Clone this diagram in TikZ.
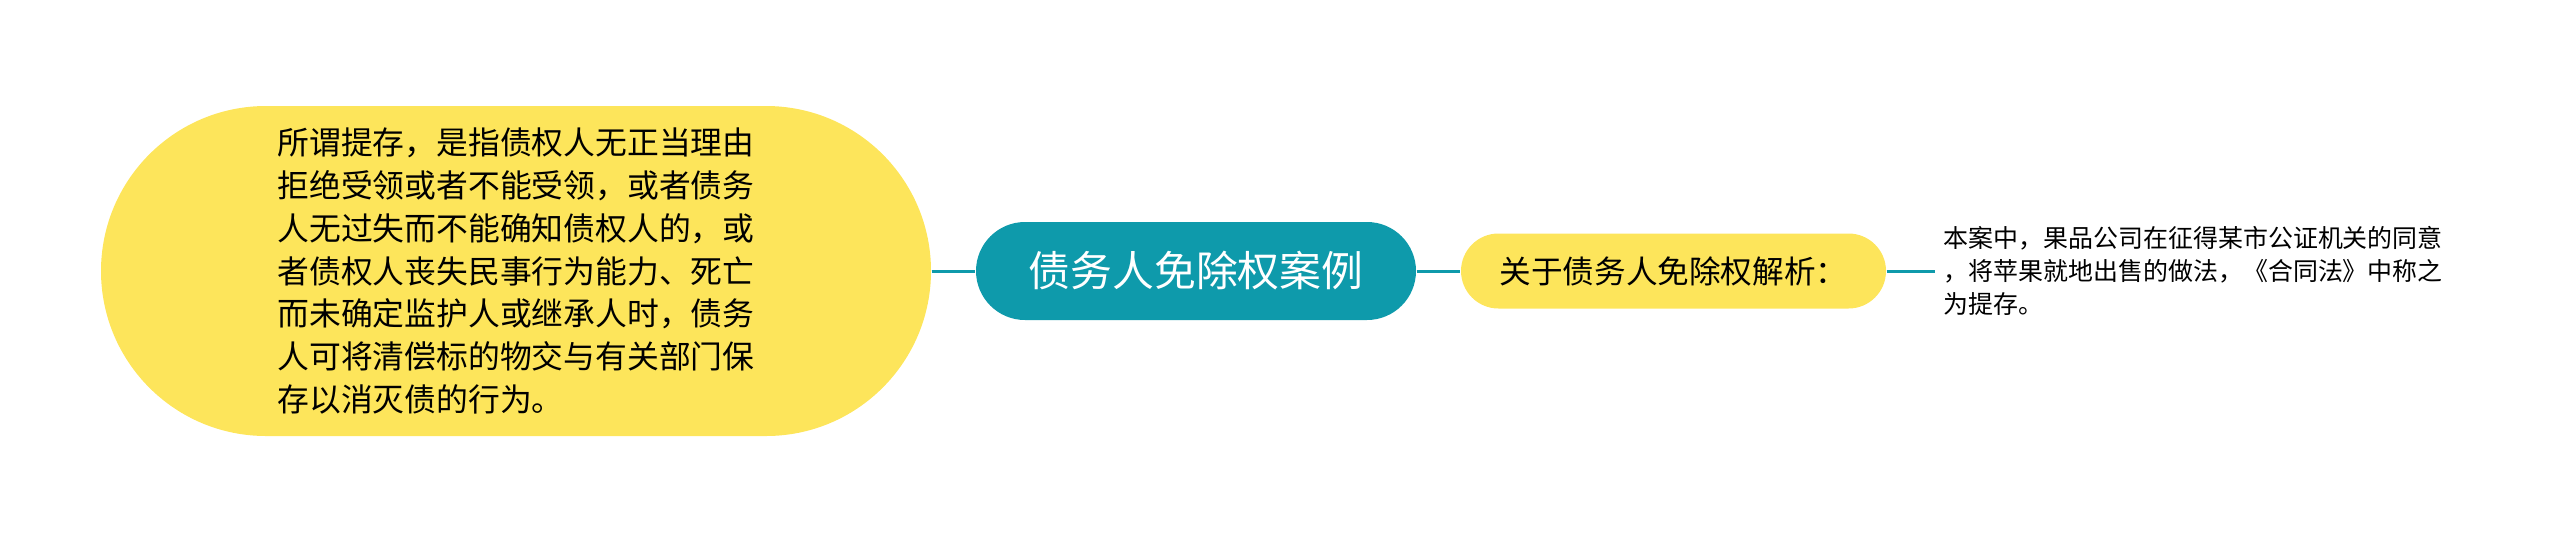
\documentclass[tikz,border=0pt]{standalone}
\usepackage{fontspec}
\newfontfamily\cjk{Noto Sans CJK SC}
\usetikzlibrary{calc}
\definecolor{topicteal}{HTML}{0E9AAB}
\definecolor{leafyellow}{HTML}{FDE55B}
\tikzstyle{root}=[rounded corners=0.49cm,fill=topicteal,minimum width=4.4cm,minimum height=0.98cm,inner sep=0pt,text=white,font=\cjk\fontsize{11.9}{14}\selectfont]
\tikzstyle{bigleaf}=[rounded corners=1.65cm,fill=leafyellow,minimum width=8.3cm,minimum height=3.3cm,inner sep=0pt,align=left,font=\cjk\fontsize{9.05}{12.2}\selectfont]
\tikzstyle{leaf}=[rounded corners=0.375cm,fill=leafyellow,minimum width=4.25cm,minimum height=0.75cm,inner sep=0pt,font=\cjk\fontsize{9}{11}\selectfont]
\tikzstyle{note}=[anchor=west,inner sep=0.08cm,align=left,font=\cjk\fontsize{7.1}{9.5}\selectfont]
\tikzstyle{edge} = [draw,line width=0.85pt,topicteal]

\begin{document}
\begin{tikzpicture}

    \useasboundingbox (0,0) rectangle (25.6,-5.42);

    \node[root] (case) at (11.96,-2.71) {债务人免除权案例};
    \node[bigleaf] (deposit) at (5.16,-2.71) {所谓提存，是指债权人无正当理由\\拒绝受领或者不能受领，或者债务\\人无过失而不能确知债权人的，或\\者债权人丧失民事行为能力、死亡\\而未确定监护人或继承人时，债务\\人可将清偿标的物交与有关部门保\\存以消灭债的行为。};
    \node[leaf] (analysis) at (16.735,-2.71) {关于债务人免除权解析：};
    \node[note] (apple) at (19.35,-2.71) {本案中，果品公司在征得某市公证机关的同意\\，将苹果就地出售的做法，《合同法》中称之\\为提存。};

    \foreach \source/\dest in {deposit.east/case.west, case.east/analysis.west, analysis.east/apple.west}
        \path[edge] (\source) -- (\dest);

\end{tikzpicture}
\end{document}
